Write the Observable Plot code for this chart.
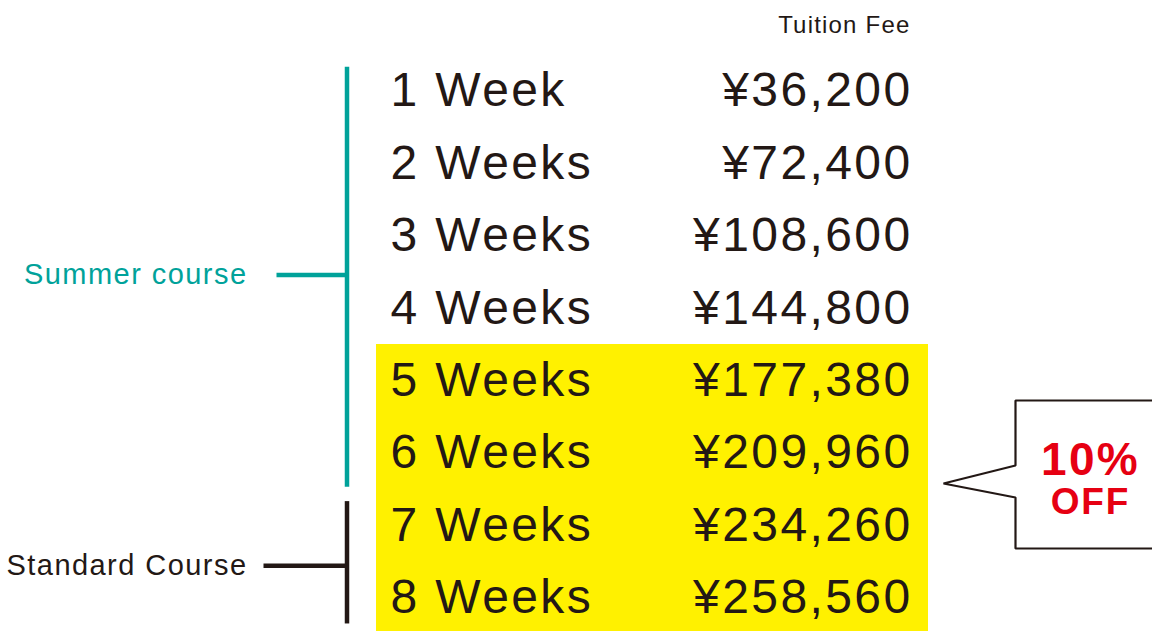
<!DOCTYPE html>
<html>
<head>
<meta charset="utf-8">
<script src="https://cdn.jsdelivr.net/npm/d3@7"></script>
<script src="https://cdn.jsdelivr.net/npm/@observablehq/plot@0.6"></script>
<style>
  html, body { margin: 0; padding: 0; background: #ffffff; overflow: hidden; }
  #chart svg text { letter-spacing: 0.05em; }
</style>
</head>
<body>
<div id="chart"></div>
<script>
// ---------- data ----------
const weeks = ["1 Week", "2 Weeks", "3 Weeks", "4 Weeks", "5 Weeks", "6 Weeks", "7 Weeks", "8 Weeks"];
const fees = [36200, 72400, 108600, 144800, 177380, 209960, 234260, 258560];
const discountFromWeek = 5;
const headerLabel = "Tuition Fee";
const groupNames = ["Summer course", "Standard Course"];
const groupStart = [1, 7];
const groupEnd = [6, 8];
const calloutPercent = "10%";
const calloutWord = "OFF";

// ---------- styles / layout ----------
const INK = "#231815";
const TEAL = "#00a29a";
const YELLOW = "#fff100";
const RED = "#e60012";
const FONT = "'Liberation Sans', Arial, Helvetica, sans-serif";
const groupColor = [TEAL, INK];
const groupBottomPad = [0.47, 0.36];
const groupTopPad = 0.33;
const groupDy = [3, 4];
const W = 1152, H = 631;
const rowStep = 72.4, firstRowPx = 90.6;
const toRow = px => 1 + (px - firstRowPx) / rowStep;

const fmt = d => "¥" + d3.format(",")(d);
const rows = weeks.map((w, i) => ({idx: i + 1, week: w, fee: fmt(fees[i])}));
const groups = groupNames.map((n, i) => ({
  name: n, start: groupStart[i], end: groupEnd[i], color: groupColor[i],
  pad: groupBottomPad[i], dy: groupDy[i]
}));
const highlight = [{from: discountFromWeek, to: weeks.length}];

// speech-bubble outline (annotation shape)
const bubble = [
  [1160, 400], [1015, 400], [1015, 465], [943, 483], [1015, 497], [1015, 548], [1160, 548]
].map(([x, y]) => ({x, y: toRow(y)}));

const marks = [
  Plot.rect(highlight, {
    x1: () => 376, x2: () => 928,
    y1: d => d.from - 0.5, y2: d => d.to + 0.5,
    fill: YELLOW
  }),
  Plot.text([{idx: 0, label: headerLabel}], {
    x: () => 910, y: "idx", text: "label", textAnchor: "end",
    fontSize: 24, fill: INK, dy: 6.5, fontFamily: FONT
  }),
  Plot.text(rows, {
    x: () => 390, y: "idx", text: "week", textAnchor: "start",
    fontSize: 48, fill: INK, fontFamily: FONT
  }),
  Plot.text(rows, {
    x: () => 912, y: "idx", text: "fee", textAnchor: "end",
    fontSize: 48, fill: INK, fontFamily: FONT
  })
];

groups.forEach(g => {
  marks.push(
    Plot.ruleX([g], {
      x: () => 346.5,
      y1: d => d.start - groupTopPad, y2: d => d.end + d.pad,
      stroke: g.color, strokeWidth: 4.5
    }),
    Plot.ruleY([g], {
      y: d => (d.start + d.end) / 2,
      x1: () => (g.start === 1 ? 276.5 : 263.5), x2: () => 347,
      stroke: g.color, strokeWidth: 4.5, dy: g.dy
    }),
    Plot.text([g], {
      x: () => 247, y: d => (d.start + d.end) / 2, text: "name",
      textAnchor: "end", fontSize: 29, fill: g.color, dy: g.dy, fontFamily: FONT
    })
  );
});

marks.push(
  Plot.line(bubble, {x: "x", y: "y", stroke: INK, strokeWidth: 2.2, fill: "white", strokeLinejoin: "miter"}),
  Plot.text([{t: calloutPercent}], {
    x: () => 1090, y: () => toRow(459.5), text: "t",
    fontSize: 46, fontWeight: "bold", fill: RED, fontFamily: FONT
  }),
  Plot.text([{t: calloutWord}], {
    x: () => 1090, y: () => toRow(502), text: "t",
    fontSize: 37, fontWeight: "bold", fill: RED, fontFamily: FONT
  })
);

const chart = Plot.plot({
  width: W,
  height: H,
  margin: 0,
  marginTop: 0, marginBottom: 0, marginLeft: 0, marginRight: 0,
  x: {domain: [0, W], axis: null},
  y: {domain: [toRow(0), toRow(H)], reverse: true, axis: null},
  style: {background: "#ffffff", fontFamily: FONT, color: INK},
  marks
});
document.getElementById("chart").appendChild(chart);
</script>
</body>
</html>
